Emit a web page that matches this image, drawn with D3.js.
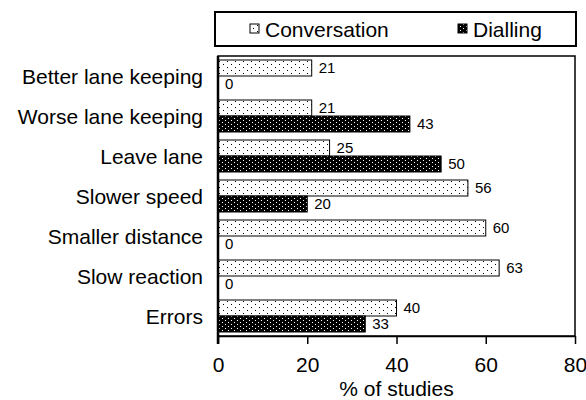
<html>
<head>
<script src="https://d3js.org/d3.v7.min.js"></script>
<style>
  body { margin: 0; background: #fff; }
  text { font-family: "Liberation Sans", Arial, sans-serif; fill: #000; }
</style>
</head>
<body>
<svg id="chart" width="586" height="400"></svg>
<script>
// data
var categories = ["Better lane keeping", "Worse lane keeping", "Leave lane", "Slower speed",
                  "Smaller distance", "Slow reaction", "Errors"];
var conversation = [21, 21, 25, 56, 60, 63, 40];
var dialling = [0, 43, 50, 20, 0, 0, 33];
var seriesNames = ["Conversation", "Dialling"];
var xTicks = [0, 20, 40, 60, 80];

var svg = d3.select("#chart");
var margin = {left: 218, top: 56, right: 11, bottom: 64};
var width = 586 - margin.left - margin.right;
var height = 400 - margin.top - margin.bottom;

// fill patterns
var defs = svg.append("defs");
var p1 = defs.append("pattern").attr("id", "pConv").attr("patternUnits", "userSpaceOnUse")
    .attr("width", 8).attr("height", 6);
p1.append("rect").attr("width", 8).attr("height", 6).attr("fill", "#fff");
p1.append("rect").attr("x", 1).attr("y", 1).attr("width", 1).attr("height", 1).attr("fill", "#000");
p1.append("rect").attr("x", 5).attr("y", 4).attr("width", 1).attr("height", 1).attr("fill", "#000");

var p2 = defs.append("pattern").attr("id", "pDial").attr("patternUnits", "userSpaceOnUse")
    .attr("width", 6).attr("height", 4);
p2.append("rect").attr("width", 6).attr("height", 4).attr("fill", "#000");
p2.append("rect").attr("x", 1).attr("y", 0).attr("width", 1).attr("height", 1).attr("fill", "#fff");
p2.append("rect").attr("x", 4).attr("y", 2).attr("width", 1).attr("height", 1).attr("fill", "#fff");

var fills = ["url(#pConv)", "url(#pDial)"];

var x = d3.scaleLinear().domain([0, 80]).range([0, width]);
var y0 = d3.scaleBand().domain(categories).range([0, height]).paddingInner(0.2).paddingOuter(0.1);
var y1 = d3.scaleBand().domain(seriesNames).range([0, y0.bandwidth()]);

var g = svg.append("g").attr("transform", "translate(" + margin.left + "," + margin.top + ")");

// frame
g.append("rect").attr("x", 0).attr("y", 0).attr("width", width).attr("height", height)
    .attr("fill", "none").attr("stroke", "#000").attr("stroke-width", 1.5);

var rows = categories.map(function(c, i) {
    return {cat: c, vals: [conversation[i], dialling[i]]};
});

var row = g.selectAll(".row").data(rows).enter().append("g")
    .attr("transform", function(d) { return "translate(0," + y0(d.cat) + ")"; });

row.selectAll("rect").data(function(d) { return d.vals; }).enter().append("rect")
    .attr("x", 0)
    .attr("y", function(d, i) { return y1(seriesNames[i]); })
    .attr("width", function(d) { return x(d); })
    .attr("height", y1.bandwidth())
    .attr("fill", function(d, i) { return fills[i]; })
    .attr("stroke", function(d) { return d > 0 ? "#000" : "none"; })
    .attr("stroke-width", 1);

row.selectAll(".val").data(function(d) { return d.vals; }).enter().append("text")
    .attr("x", function(d) { return x(d) + 7; })
    .attr("y", function(d, i) { return y1(seriesNames[i]) + y1.bandwidth() / 2; })
    .attr("dy", "0.36em")
    .style("font-size", "15px")
    .text(function(d) { return d; });

// category labels
g.selectAll(".cat").data(categories).enter().append("text")
    .attr("x", -15)
    .attr("y", function(d) { return y0(d) + y0.bandwidth() / 2; })
    .attr("dy", "0.36em")
    .attr("text-anchor", "end")
    .style("font-size", "21px")
    .text(function(d) { return d; });

// x axis
var xAxis = g.append("g").attr("transform", "translate(0," + height + ")")
    .call(d3.axisBottom(x).tickValues(xTicks).tickSize(8).tickPadding(13).tickSizeOuter(0));
xAxis.select(".domain").attr("stroke-width", 1.5);
xAxis.selectAll(".tick line").attr("stroke-width", 1.5);
xAxis.selectAll(".tick text").style("font-size", "21px")
    .style("font-family", "'Liberation Sans', Arial, sans-serif");

// left axis line (thicker)
g.append("line").attr("x1", 0).attr("x2", 0).attr("y1", 0).attr("y2", height + 8)
    .attr("stroke", "#000").attr("stroke-width", 2.5);

g.append("text").attr("x", width / 2).attr("y", height + 60)
    .attr("text-anchor", "middle").style("font-size", "21px").text("% of studies");

// legend
var lg = svg.append("g");
lg.append("rect").attr("x", 215).attr("y", 12).attr("width", 361).attr("height", 34)
    .attr("fill", "#fff").attr("stroke", "#000").attr("stroke-width", 2);
var legX = [250, 458];
seriesNames.forEach(function(s, i) {
    lg.append("rect").attr("x", legX[i]).attr("y", 24).attr("width", 9).attr("height", 9)
        .attr("fill", fills[i]).attr("stroke", "#000").attr("stroke-width", 1);
    lg.append("text").attr("x", legX[i] + 15).attr("y", 29).attr("dy", "0.36em")
        .style("font-size", "21px").text(s);
});
</script>
</body>
</html>
